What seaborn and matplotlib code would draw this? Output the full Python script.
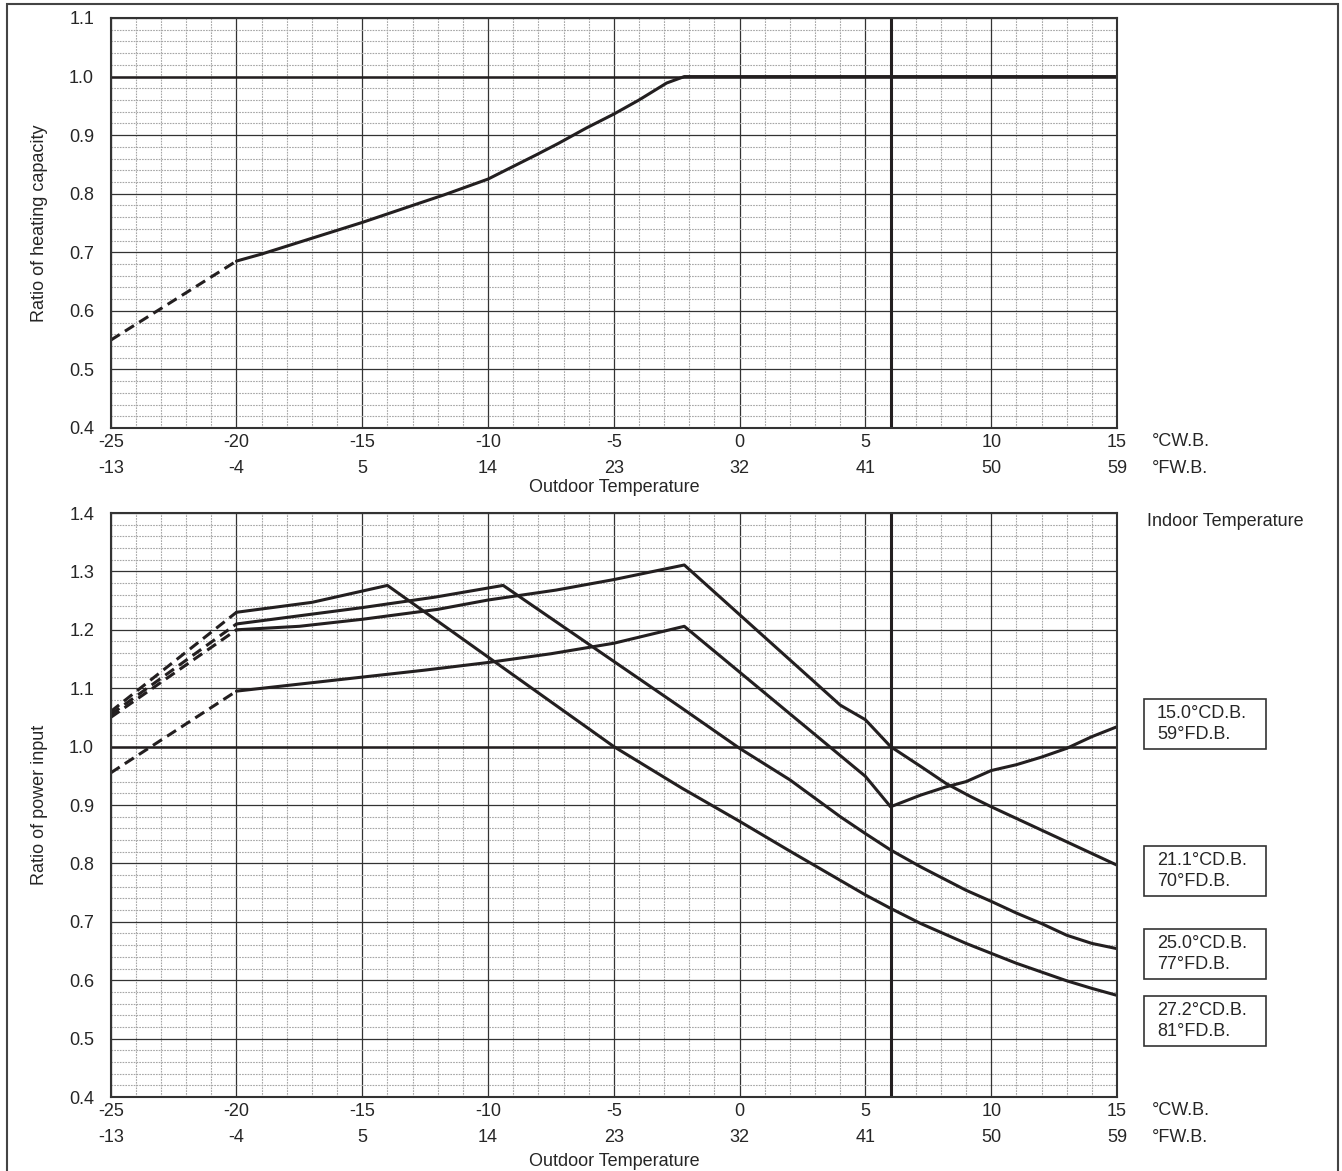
import matplotlib
matplotlib.use("Agg")
import matplotlib.pyplot as plt
import seaborn as sns
from matplotlib.patches import Rectangle
from matplotlib.ticker import MultipleLocator

# temperature scales (same tick positions, two units)
temp_c = [-25, -20, -15, -10, -5, 0, 5, 10, 15]
temp_f = [-13, -4, 5, 14, 23, 32, 41, 50, 59]

# heating capacity ratio
cap_dash_t = [-25, -20]
cap_dash_v = [0.55, 0.685]
cap_t = [-20, -19, -17, -15, -13, -11.75, -10, -9.4, -8.1, -7.2, -6.1, -5, -4, -2.9, -2.2, 15]
cap_v = [0.685, 0.697, 0.724, 0.751, 0.780, 0.798, 0.825, 0.838, 0.866, 0.886, 0.912, 0.936,
         0.960, 0.989, 1.0, 1.0]

# power input ratio, one curve per indoor temperature
indoor_labels = ["15.0°CD.B.\n59°FD.B.", "21.1°CD.B.\n70°FD.B.",
                 "25.0°CD.B.\n77°FD.B.", "27.2°CD.B.\n81°FD.B."]

pw15_dash = [0.955, 1.095]
pw15_t = [-20, -17.5, -15, -12.5, -10, -7.5, -5, -2.2, 5, 6, 7.2, 8.2, 9, 10, 11, 12, 13, 14, 15]
pw15_v = [1.095, 1.107, 1.119, 1.131, 1.144, 1.159, 1.177, 1.206, 0.949, 0.897, 0.917, 0.931,
          0.94, 0.959, 0.969, 0.982, 0.997, 1.017, 1.034]

pw21_dash = [1.05, 1.20]
pw21_t = [-20, -17.5, -15, -12, -10, -7.3, -5, -2.2, 4, 5, 6, 7.2, 8.2, 9.2, 10, 11, 12, 13, 14, 15]
pw21_v = [1.20, 1.206, 1.218, 1.235, 1.251, 1.268, 1.286, 1.311, 1.071, 1.046, 1.0, 0.966,
          0.937, 0.914, 0.897, 0.877, 0.857, 0.837, 0.817, 0.797]

pw25_dash = [1.055, 1.21]
pw25_t = [-20, -15, -12.1, -9.4, -2.3, 0, 2, 4, 5, 6, 7.2, 9, 10, 11, 12, 13, 14, 15]
pw25_v = [1.21, 1.238, 1.256, 1.276, 1.066, 0.997, 0.943, 0.88, 0.851, 0.823, 0.794,
          0.754, 0.735, 0.715, 0.697, 0.677, 0.663, 0.654]

pw27_dash = [1.06, 1.23]
pw27_t = [-20, -17, -14, -5, -2.3, 0, 2, 4, 5, 6, 7.2, 9, 10, 11, 12, 13, 14, 15]
pw27_v = [1.23, 1.247, 1.276, 1.0, 0.929, 0.872, 0.821, 0.771, 0.746, 0.723, 0.697,
          0.663, 0.646, 0.629, 0.614, 0.599, 0.586, 0.574]

power_curves = [(pw15_dash, pw15_t, pw15_v), (pw21_dash, pw21_t, pw21_v),
                 (pw25_dash, pw25_t, pw25_v), (pw27_dash, pw27_t, pw27_v)]

sns.set_style("white")
plt.rcParams["font.family"] = ["Liberation Sans", "DejaVu Sans"]
FS = 13
INK = "#231f20"
W, H = 1342, 1171


def fx(px):
    return px / W


def fy(py):
    return 1 - py / H


def style_axes(ax, ymin, ymax):
    ax.set_xlim(-25, 15)
    ax.set_ylim(ymin, ymax)
    ax.xaxis.set_major_locator(MultipleLocator(5))
    ax.xaxis.set_minor_locator(MultipleLocator(1))
    ax.yaxis.set_major_locator(MultipleLocator(0.1))
    ax.yaxis.set_minor_locator(MultipleLocator(0.02))
    ax.grid(which="minor", color="#a6a6a6", lw=0.8, ls=(0, (1.5, 1)))
    ax.grid(which="major", color="#333333", lw=0.9)
    ax.set_axisbelow(True)
    ax.set_xticks(temp_c)
    ax.set_xticklabels([f"{c}\n{f}" for c, f in zip(temp_c, temp_f)], fontsize=FS, linespacing=1.75)
    ax.tick_params(axis="x", which="both", length=0, pad=4)
    ax.tick_params(axis="y", which="both", length=0, pad=12, labelsize=FS)
    ax.set_yticks([round(v / 10, 1) for v in range(int(ymin * 10), int(ymax * 10) + 1)])
    ax.set_yticklabels([f"{v / 10:.1f}" for v in range(int(ymin * 10), int(ymax * 10) + 1)])
    for s in ax.spines.values():
        s.set_color("#333333")
        s.set_linewidth(1.5)
    ax.axhline(1.0, color=INK, lw=1.8, zorder=2)
    ax.axvline(6, color=INK, lw=2.2, zorder=2)
    ax.set_xlabel("")
    ax.set_ylabel("")


fig = plt.figure(figsize=(W / 100, H / 100), dpi=100)
ax_top = fig.add_axes([fx(110.7), fy(428), fx(1117) - fx(110.7), fy(18) - fy(428)])
ax_bot = fig.add_axes([fx(110.7), fy(1097), fx(1117) - fx(110.7), fy(513) - fy(1097)])

# top: heating capacity
sns.lineplot(x=cap_dash_t, y=cap_dash_v, ax=ax_top, color=INK, lw=2.2, ls=(0, (3.5, 2)),
             estimator=None, sort=False)
sns.lineplot(x=cap_t, y=cap_v, ax=ax_top, color=INK, lw=2.2, estimator=None, sort=False)
style_axes(ax_top, 0.4, 1.1)

# bottom: power input
for dash_v, t, v in power_curves:
    sns.lineplot(x=[-25, -20], y=dash_v, ax=ax_bot, color=INK, lw=2.2, ls=(0, (3.5, 2)),
                 estimator=None, sort=False)
    sns.lineplot(x=t, y=v, ax=ax_bot, color=INK, lw=2.2, estimator=None, sort=False)
style_axes(ax_bot, 0.4, 1.4)

# axis titles and unit labels
fig.text(fx(40), fy(223), "Ratio of heating capacity", rotation=90, ha="center", va="center", fontsize=FS)
fig.text(fx(40), fy(805), "Ratio of power input", rotation=90, ha="center", va="center", fontsize=FS)
fig.text(fx(614), fy(488), "Outdoor Temperature", ha="center", va="center", fontsize=FS)
fig.text(fx(614), fy(1161), "Outdoor Temperature", ha="center", va="center", fontsize=FS)
for ytop in (433, 1102):
    fig.text(fx(1152), fy(ytop), "°CW.B.\n°FW.B.", ha="left", va="top", fontsize=FS, linespacing=1.75)
fig.text(fx(1147), fy(521), "Indoor Temperature", ha="left", va="center", fontsize=FS)

# indoor temperature boxes
box_tops = [699, 846, 929, 996]
for label, top in zip(indoor_labels, box_tops):
    fig.add_artist(Rectangle((fx(1144), fy(top + 50)), fx(1266) - fx(1144), fy(top) - fy(top + 50),
                             transform=fig.transFigure, fill=False, ec="#333333", lw=1.2))
    fig.text(fx(1157), fy(top + 25), label, ha="left", va="center", fontsize=FS, linespacing=1.3)

# outer frame
fig.add_artist(Rectangle((fx(7), fy(1200)), fx(1338) - fx(7), fy(4) - fy(1200),
                         transform=fig.transFigure, fill=False, ec="#444444", lw=1.5))

fig.savefig("out.png", dpi=100)
plt.close(fig)
